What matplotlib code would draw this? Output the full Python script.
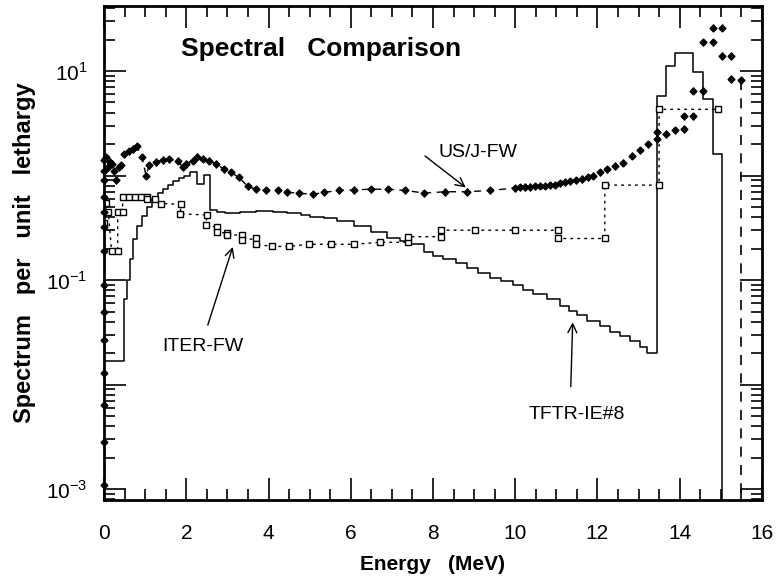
import numpy as np
import matplotlib
matplotlib.use('Agg')
import matplotlib.pyplot as plt
import matplotlib.ticker as ticker

plt.rcParams['font.family'] = ['Liberation Sans', 'DejaVu Sans']
plt.rcParams['mathtext.fontset'] = 'custom'
plt.rcParams['mathtext.rm'] = 'Liberation Sans'

# TFTR-IE#8 histogram: left bin edges (MeV) and value per bin
tftr_edges = [0.00, 0.49, 0.55, 0.62, 0.70, 0.80, 0.92, 1.05, 1.17, 1.30,
              1.42, 1.55, 1.68, 1.82, 1.95, 2.10, 2.27, 2.42, 2.58, 2.75,
              2.95, 3.30, 3.70, 4.10, 4.45, 4.78, 5.00, 5.35, 5.67, 6.07,
              6.48, 6.89, 7.20, 7.45, 7.77, 8.00, 8.25, 8.55, 8.83, 9.10,
              9.39, 9.65, 9.95, 10.20, 10.44, 10.77, 11.09, 11.30, 11.50, 11.75,
              12.06, 12.30, 12.55, 12.80, 13.03, 13.20, 13.45, 13.68, 13.88, 14.33,
              14.57, 14.80, 15.03]
tftr_vals = [0.017, 0.066, 0.10, 0.158, 0.245, 0.33, 0.41, 0.50, 0.60, 0.68,
             0.74, 0.82, 0.89, 0.95, 1.00, 1.07, 0.83, 1.02, 0.47, 0.45,
             0.44, 0.45, 0.46, 0.45, 0.44, 0.42, 0.40, 0.39, 0.37, 0.33,
             0.29, 0.25, 0.235, 0.22, 0.186, 0.17, 0.158, 0.145, 0.13, 0.118,
             0.105, 0.097, 0.089, 0.081, 0.074, 0.066, 0.057, 0.051, 0.046, 0.041,
             0.036, 0.032, 0.029, 0.026, 0.023, 0.020, 5.8, 11.2, 14.8, 9.8,
             5.4, 1.6, 1e-5]

# ITER-FW: corner points of the histogram (open squares, dotted)
iter_e = [0.00, 0.05, 0.10, 0.18, 0.33, 0.33, 0.45, 0.45, 0.61, 0.75,
          0.90, 1.04, 1.04, 1.24, 1.38, 1.87, 1.85, 2.50, 2.48, 2.74,
          2.74, 3.00, 3.00, 3.35, 3.35, 3.69, 3.69, 4.08, 4.50, 4.98,
          5.51, 6.08, 6.71, 7.39, 7.39, 8.20, 8.20, 9.03, 10.00, 11.04,
          11.04, 12.18, 12.18, 13.50, 13.50, 14.93]
iter_v = [0.35, 0.55, 0.45, 0.19, 0.19, 0.45, 0.45, 0.63, 0.63, 0.63,
          0.63, 0.63, 0.60, 0.60, 0.54, 0.53, 0.43, 0.42, 0.34, 0.32,
          0.29, 0.28, 0.27, 0.27, 0.24, 0.25, 0.22, 0.21, 0.21, 0.22,
          0.22, 0.22, 0.23, 0.23, 0.26, 0.26, 0.30, 0.30, 0.30, 0.30,
          0.25, 0.25, 0.81, 0.81, 4.3, 4.3]

# US/J-FW: points near E = 0 (along the axis)
usj_low_e = [0.0, 0.0, 0.0, 0.0, 0.0, 0.0, 0.0, 0.0, 0.0, 0.0,
             0.0, 0.0, 0.0, 0.0, 0.05, 0.10, 0.15, 0.20, 0.25, 0.30, 0.35, 0.40]
usj_low_v = [0.0011, 0.0028, 0.0064, 0.013, 0.027, 0.049, 0.09, 0.19, 0.32, 0.45,
             0.63, 0.9, 1.1, 1.4, 1.5, 1.2, 1.35, 1.3, 1.1, 0.9, 1.2, 1.25]

# US/J-FW: main series (dashed)
usj_e = [0.49, 0.60, 0.70, 0.80, 0.92, 1.02, 1.10, 1.26, 1.42, 1.58,
         1.79, 1.91, 1.99, 2.15, 2.27, 2.40, 2.56, 2.72, 2.92, 3.08,
         3.28, 3.49, 3.69, 3.93, 4.22, 4.46, 4.74, 5.07, 5.35, 5.71,
         6.08, 6.48, 6.90, 7.33, 7.79, 8.30, 8.83, 9.39, 10.00, 10.12,
         10.24, 10.36, 10.48, 10.60, 10.72, 10.84, 10.96, 11.08, 11.20, 11.34,
         11.48, 11.62, 11.76, 11.90]
usj_v = [1.6, 1.7, 1.8, 1.9, 1.5, 1.0, 1.26, 1.35, 1.41, 1.43,
         1.39, 1.2, 1.3, 1.39, 1.52, 1.45, 1.39, 1.29, 1.15, 1.07,
         0.96, 0.79, 0.74, 0.72, 0.72, 0.69, 0.68, 0.66, 0.69, 0.72,
         0.73, 0.74, 0.74, 0.72, 0.68, 0.70, 0.70, 0.72, 0.76, 0.77,
         0.78, 0.78, 0.79, 0.80, 0.80, 0.81, 0.82, 0.84, 0.86, 0.88,
         0.90, 0.93, 0.96, 1.0]

# US/J-FW: high-energy points (bin corners)
usj_hi_e = [12.06, 12.23, 12.43, 12.63, 12.83, 13.03, 13.24, 13.44, 13.45, 13.68,
            13.88, 14.10, 14.10, 14.33, 14.33, 14.57, 14.57, 14.80, 14.80, 15.03,
            15.03, 15.26, 15.26, 15.49]
usj_hi_v = [1.07, 1.15, 1.24, 1.33, 1.55, 1.74, 2.0, 2.24, 2.6, 2.5,
            2.7, 2.8, 3.7, 3.7, 6.5, 6.5, 18.8, 18.8, 26, 26,
            14, 14, 8.4, 8.2]

fig = plt.figure(figsize=(7.83, 5.84), dpi=100)
ax = fig.add_axes([0.133, 0.144, 0.840, 0.846])

# TFTR solid histogram
ax.step(tftr_edges, tftr_vals, where='post', color='black', lw=1.1)

# ITER dotted with open squares
ax.plot(iter_e, iter_v, color='black', lw=1.0, ls=(0, (2, 3)),
        marker='s', ms=4.5, mfc='white', mec='black', mew=1.0)

# US/J dashed with filled diamonds + error bars
err = 0.08
ax.plot(usj_e, usj_v, color='black', lw=1.0, ls=(0, (5, 4)))
for e_arr, v_arr in [(usj_low_e, usj_low_v), (usj_e, usj_v), (usj_hi_e, usj_hi_v)]:
    v = np.array(v_arr)
    ax.errorbar(e_arr, v, yerr=[v * err, v * err], fmt='D', color='black',
                ms=3.5, capsize=0, elinewidth=1.0, clip_on=False, zorder=4)
ax.plot([usj_hi_e[-1], usj_hi_e[-1]], [usj_hi_v[-1], 1e-4], color='black',
        lw=1.2, ls=(0, (6, 5)))

ax.set_yscale('log')
ax.set_xlim(0, 16)
ax.set_ylim(7.9e-4, 42)

ax.xaxis.set_major_locator(ticker.MultipleLocator(2))
ax.xaxis.set_minor_locator(ticker.MultipleLocator(0.5))
ax.yaxis.set_major_locator(ticker.FixedLocator([1e-3, 1e-2, 1e-1, 1, 10]))
ax.yaxis.set_minor_locator(ticker.LogLocator(base=10, subs=np.arange(2, 10)))
ax.yaxis.set_major_formatter(ticker.FuncFormatter(
    lambda y, _: rf'$10^{{{int(round(np.log10(y)))}}}$'
    if int(round(np.log10(y))) % 2 else ''))
ax.yaxis.set_minor_formatter(ticker.NullFormatter())

ax.tick_params(which='both', direction='in', top=True, right=True, width=1.2)
ax.tick_params(which='major', length=16, labelsize=15)
ax.tick_params(axis='y', which='major', pad=12)
ax.tick_params(axis='x', which='major', pad=17)
ax.tick_params(which='minor', length=8)
for s in ax.spines.values():
    s.set_linewidth(2.0)

ax.set_xlabel('Energy   (MeV)', fontsize=15, fontweight='bold', labelpad=9)
ax.set_ylabel('Spectrum   per   unit   lethargy', fontsize=17,
              fontweight='bold', labelpad=7)

ax.text(0.33, 0.912, 'Spectral   Comparison', transform=ax.transAxes,
        ha='center', va='center', fontsize=19, fontweight='bold')

arrow = dict(arrowstyle='->', color='black', lw=1.0, mutation_scale=16)
ax.annotate('US/J-FW', xy=(8.85, 0.74), xytext=(9.1, 1.65),
            ha='center', va='center', fontsize=14)
ax.annotate('', xy=(8.85, 0.74), xytext=(7.75, 1.6), arrowprops=arrow)
ax.annotate('ITER-FW', xy=(3.15, 0.22), xytext=(2.4, 0.023),
            ha='center', va='center', fontsize=14)
ax.annotate('', xy=(3.15, 0.22), xytext=(2.5, 0.035), arrowprops=arrow)
ax.annotate('TFTR-IE#8', xy=(11.4, 0.042), xytext=(11.5, 0.0052),
            ha='center', va='center', fontsize=14)
ax.annotate('', xy=(11.4, 0.042), xytext=(11.35, 0.009), arrowprops=arrow)

fig.savefig('out.png', dpi=100)
